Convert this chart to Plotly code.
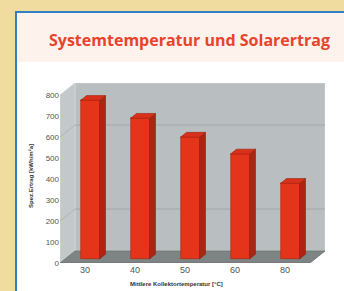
import plotly.graph_objects as go

categories = ["30", "40", "50", "60", "80"]
values = [755, 670, 580, 500, 360]
y_ticks = [0, 100, 200, 300, 400, 500, 600, 700, 800]
grid_values = [200, 600]

title_text = "Systemtemperatur und Solarertrag"
x_title = "Mittlere Kollektortemperatur [°C]"
y_title = "Spez.Ertrag [kWh/m²a]"

# layout geometry (pixels)
W, H = 344, 291
L, R, T, B = 60, 19, 83, 28
PW, PH = W - L - R, H - T - B

# 3D depth offsets in data units
DX, DY = 0.3, 57.0
YMAX = 800
BAR_W = 0.38
BAR_SHIFT = DX / 3
BASE = DY / 3
BDX, BDY = 0.12, 23.0

XR = [-0.5, 4.5 + DX]
YR = [0, YMAX + DY]


def px_to_paper(px, py):
    return (px - L) / PW, (H - B - py) / PH


fig = go.Figure()

xs = [i + BAR_SHIFT for i in range(len(values))]

# front faces
fig.add_trace(go.Bar(
    x=xs, y=values, base=BASE, width=BAR_W,
    marker=dict(color="#e4351b", line=dict(color="#a8260f", width=0.6)),
    hoverinfo="skip", showlegend=False,
))

# side faces and top faces
sx, sy, tx, ty = [], [], [], []
for x, v in zip(xs, values):
    r = x + BAR_W / 2
    l = x - BAR_W / 2
    top = v + BASE
    sx += [r, r, r + BDX, r + BDX, r, None]
    sy += [BASE, top, top + BDY, BASE + BDY, BASE, None]
    tx += [l, r, r + BDX, l + BDX, l, None]
    ty += [top, top, top + BDY, top + BDY, top, None]

fig.add_trace(go.Scatter(x=sx, y=sy, fill="toself", fillcolor="#a82612",
                         line=dict(color="#8e1f0e", width=0.6), mode="lines",
                         hoverinfo="skip", showlegend=False))
fig.add_trace(go.Scatter(x=tx, y=ty, fill="toself", fillcolor="#d8301a",
                         line=dict(color="#9a2310", width=0.6), mode="lines",
                         hoverinfo="skip", showlegend=False))

shapes = []
# panel background with blue border
x0, y0 = px_to_paper(16, 12)
x1, y1 = px_to_paper(360, 310)
shapes.append(dict(type="rect", xref="paper", yref="paper", x0=x0, y0=y1, x1=x1, y1=y0,
                   fillcolor="white", line=dict(color="#2f80c6", width=2), layer="below"))
# title band
x0, y0 = px_to_paper(17, 13)
x1, y1 = px_to_paper(350, 62)
shapes.append(dict(type="rect", xref="paper", yref="paper", x0=x0, y0=y1, x1=x1, y1=y0,
                   fillcolor="#fdf3ec", line=dict(width=0), layer="below"))

# back wall
shapes.append(dict(type="rect", xref="x", yref="y", x0=XR[0] + DX, x1=XR[1], y0=DY, y1=YMAX + DY,
                   fillcolor="#b9bfc1", line=dict(color="#c9cdce", width=1), layer="below"))
# side wall
shapes.append(dict(type="path", xref="x", yref="y",
                   path=f"M {XR[0]},0 L {XR[0]},{YMAX} L {XR[0]+DX},{YMAX+DY} L {XR[0]+DX},{DY} Z",
                   fillcolor="#c3c8c9", line=dict(color="#d0d4d5", width=1), layer="below"))
# floor
shapes.append(dict(type="path", xref="x", yref="y",
                   path=f"M {XR[0]},0 L {XR[1]-DX},0 L {XR[1]},{DY} L {XR[0]+DX},{DY} Z",
                   fillcolor="#7d8483", line=dict(color="#6c7271", width=0.8), layer="below"))
# gridlines on back wall and side wall
for g in grid_values:
    shapes.append(dict(type="line", xref="x", yref="y", x0=XR[0] + DX, x1=XR[1],
                       y0=g + DY, y1=g + DY, line=dict(color="#a2a8aa", width=1), layer="below"))
    shapes.append(dict(type="line", xref="x", yref="y", x0=XR[0], x1=XR[0] + DX,
                       y0=g, y1=g + DY, line=dict(color="#b0b5b7", width=1), layer="below"))

annotations = [
    dict(text=title_text, xref="paper", yref="paper",
         x=px_to_paper(189, 40)[0], y=px_to_paper(189, 40)[1],
         showarrow=False, xanchor="center", yanchor="middle",
         font=dict(family="Open Sans", size=16, color="#e8432c", weight="bold")),
    dict(text=x_title, xref="paper", yref="paper",
         x=px_to_paper(176, 284)[0], y=px_to_paper(176, 284)[1],
         showarrow=False, xanchor="center", yanchor="middle",
         font=dict(family="Liberation Sans", size=6, color="#333333", weight="bold")),
    dict(text=y_title, xref="paper", yref="paper",
         x=px_to_paper(31, 176)[0], y=px_to_paper(31, 176)[1], textangle=-90,
         showarrow=False, xanchor="center", yanchor="middle",
         font=dict(family="Liberation Sans", size=6, color="#333333", weight="bold")),
]

fig.update_layout(
    width=W, height=H,
    margin=dict(l=L, r=R, t=T, b=B, pad=0),
    paper_bgcolor="#f0dc9e",
    plot_bgcolor="rgba(0,0,0,0)",
    shapes=shapes,
    annotations=annotations,
    bargap=0,
    xaxis=dict(range=XR, tickvals=list(range(len(categories))), ticktext=categories,
               showgrid=False, zeroline=False, showline=False, ticks="",
               tickfont=dict(family="Liberation Sans", size=9, color="#555555"),
               fixedrange=True),
    yaxis=dict(range=YR, tickvals=y_ticks, showgrid=False, zeroline=False,
               showline=False, ticks="",
               tickfont=dict(family="Liberation Sans", size=8, color="#555555"),
               fixedrange=True),
)

fig.write_html("out.html", config={"displayModeBar": False},
               post_script="document.body.style.margin='0';document.body.style.overflow='hidden';")
